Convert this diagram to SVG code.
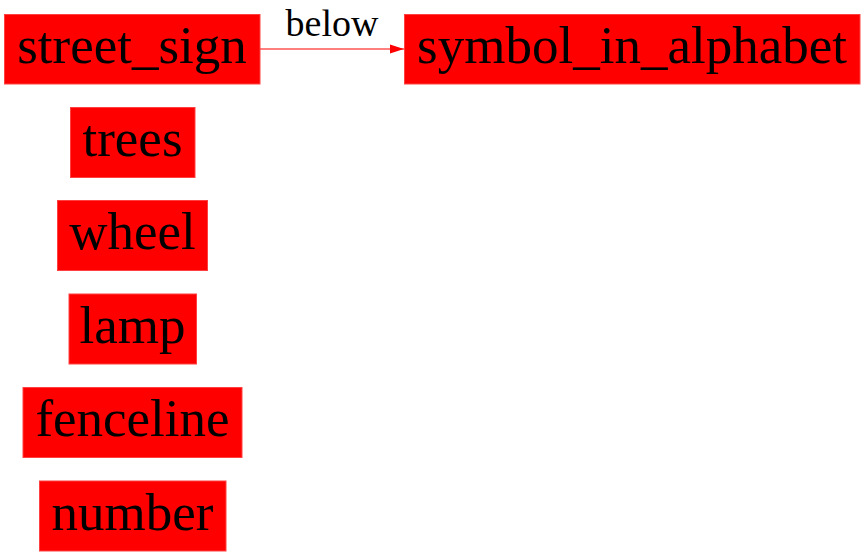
<svg xmlns="http://www.w3.org/2000/svg" width="865" height="556" viewBox="0 0 865 556">
<style>
.box{fill:#ff0000;stroke:#ff4040;stroke-width:1}
.lbl{font-family:"Liberation Serif","Times New Roman",serif;font-size:53px;fill:#000;text-anchor:middle}
.elbl{font-family:"Liberation Serif","Times New Roman",serif;font-size:38px;fill:#000;text-anchor:middle}
.edge{stroke:#ff0000;stroke-width:1.2;fill:none}
</style>
<defs>
<marker id="arr" markerWidth="14" markerHeight="10" refX="14" refY="5" orient="auto" markerUnits="userSpaceOnUse">
<polygon points="0,0.5 14,5 0,9.5" fill="#ff0000"/>
</marker>
</defs>
<rect width="865" height="556" fill="#fff"/>
<g id="connectors">
<line class="edge" x1="260" y1="49" x2="404" y2="49" marker-end="url(#arr)"/>
<text class="elbl" x="332" y="36">below</text>
</g>
<g id="street_sign"><rect class="box" x="4.5" y="14.5" width="255.5" height="69.5"/><text class="lbl" x="132" y="63">street_sign</text></g>
<g id="symbol_in_alphabet"><rect class="box" x="404.5" y="14.5" width="455.5" height="69.5"/><text class="lbl" x="632" y="63">symbol_in_alphabet</text></g>
<g id="trees"><rect class="box" x="70.5" y="107.5" width="124.5" height="70"/><text class="lbl" x="132.5" y="156">trees</text></g>
<g id="wheel"><rect class="box" x="57.5" y="200.5" width="150" height="70"/><text class="lbl" x="132.5" y="249">wheel</text></g>
<g id="lamp"><rect class="box" x="69" y="294" width="127.5" height="70"/><text class="lbl" x="132.5" y="343">lamp</text></g>
<g id="fenceline"><rect class="box" x="23" y="387.5" width="219" height="70"/><text class="lbl" x="132.5" y="436">fenceline</text></g>
<g id="number"><rect class="box" x="39.5" y="481" width="186.5" height="70"/><text class="lbl" x="132.5" y="529.5">number</text></g>
</svg>
